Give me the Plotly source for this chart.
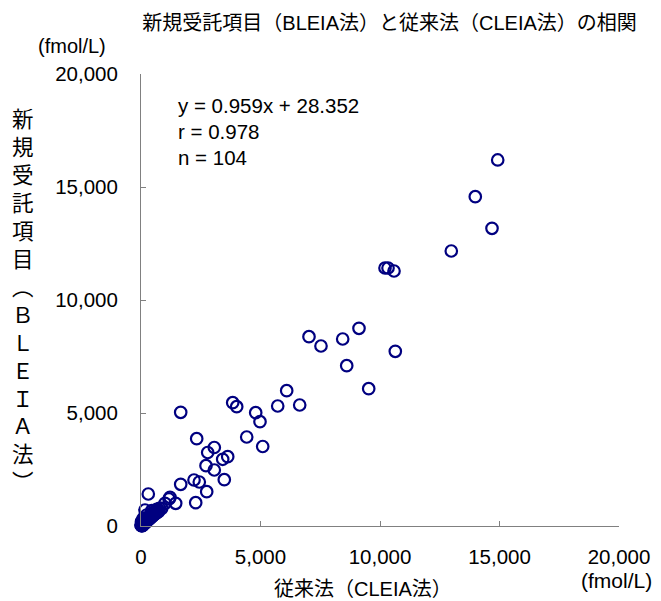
import plotly.graph_objects as go

# Values (fmol/L)
x_vals = [
    14925, 13987, 14686, 12983, 10209, 10335, 10586, 7029, 7531, 8439,
    9121, 8607, 10640, 9527, 6096, 5720, 6640, 3837, 4004, 4799,
    4979, 1661, 2330, 4423, 5092, 3067, 2791, 3628, 3418, 2720,
    3067, 3485, 2218, 2439, 1661, 2749, 2289, 305, 1452, 1172,
    1004, 866, 657, 448, 238, 167, 96, 20, 0, 448,
    96, 1213,
    15, 25, 35, 45, 55, 65, 75, 85, 95, 105,
    115, 125, 140, 150, 165, 180, 195, 210, 225, 240,
    255, 270, 285, 300, 320, 340, 360, 380, 400, 420,
    440, 460, 480, 500, 520, 545, 570, 595, 620, 650,
    680, 710, 740, 770, 30, 80, 190, 350, 110, 50,
    230, 60,
]
y_vals = [
    16196, 14572, 13173, 12169, 11417, 11417, 11284, 8377, 7965, 8275,
    8748, 7093, 7730, 6076, 5987, 5310, 5354, 5456, 5279, 5014,
    4615, 5031, 3863, 3938, 3518, 3474, 3252, 3067, 2952, 2668,
    2478, 2049, 2036, 1947, 1845, 1518, 1031, 1416, 1004, 1195,
    1004, 783, 739, 575, 487, 708, 341, 190, 44, 677,
    265, 1270,
    10, 30, 20, 50, 40, 80, 60, 100, 75, 120,
    95, 140, 120, 170, 140, 200, 170, 230, 200, 260,
    230, 300, 260, 330, 290, 370, 320, 410, 360, 450,
    400, 490, 440, 530, 480, 580, 520, 620, 560, 680,
    600, 730, 650, 780, 70, 40, 140, 450, 170, 90,
    320, 15,
]

tick_vals = [0, 5000, 10000, 15000, 20000]

title_text = "新規受託項目（BLEIA法）と従来法（CLEIA法）の相関"
x_title = "従来法（CLEIA法）"
y_title_chars = ["新", "規", "受", "託", "項", "目", "︵", "Ｂ", "Ｌ", "Ｅ", "Ｉ", "Ａ", "法", "︶"]
unit_text = "(fmol/L)"
stats_lines = ["y = 0.959x + 28.352", "r = 0.978", "n = 104"]

FONT = "Liberation Sans, Arial, Noto Sans CJK JP, sans-serif"
NAVY = "#000080"

fig = go.Figure()
fig.add_trace(go.Scatter(
    x=x_vals, y=y_vals, mode="markers",
    marker=dict(symbol="circle-open", size=11.5, color=NAVY,
                line=dict(width=2.2, color=NAVY)),
    cliponaxis=False, showlegend=False, hoverinfo="x+y",
))

axis_common = dict(
    range=[0, 20000], tickvals=tick_vals, tickformat=",",
    showgrid=False, zeroline=False, showline=True, automargin=False,
    linecolor="#808080", linewidth=1,
    ticks="inside", ticklen=5, tickcolor="#808080", tickwidth=1,
    tickfont=dict(family=FONT, size=20.5, color="black"),
)

fig.update_layout(
    width=661, height=601, autosize=False,
    margin=dict(l=141, r=42, t=74, b=75),
    paper_bgcolor="white", plot_bgcolor="white",
    font=dict(family=FONT, color="black"),
    title=dict(text=title_text, x=0.52, xref="paper", xanchor="center",
               y=1 - 23 / 601, yref="container", yanchor="middle",
               font=dict(family=FONT, size=20, color="black")),
    xaxis=dict(**axis_common, ticklabelstandoff=12),
    yaxis=dict(**axis_common, ticklabelstandoff=18),
)

annotations = []
# vertical y-axis title
annotations.append(dict(
    text="<br>".join(y_title_chars), xref="paper", yref="paper",
    x=(23 - 141) / 478, y=(526 - 298.5) / 452, xanchor="center", yanchor="middle",
    showarrow=False, font=dict(family="Noto Sans CJK JP", size=21.5, color="black"),
))
# x-axis title
annotations.append(dict(
    text=x_title, xref="paper", yref="paper",
    x=(363 - 141) / 478, y=(526 - 589) / 452, xanchor="center", yanchor="middle",
    showarrow=False, font=dict(family=FONT, size=20, color="black"),
))
# unit labels
annotations.append(dict(
    text=unit_text, xref="paper", yref="paper",
    x=(72 - 141) / 478, y=(526 - 46) / 452, xanchor="center", yanchor="middle",
    showarrow=False, font=dict(family=FONT, size=20, color="black"),
))
annotations.append(dict(
    text=unit_text, xref="paper", yref="paper",
    x=(616 - 141) / 478, y=(526 - 580) / 452, xanchor="center", yanchor="middle",
    showarrow=False, font=dict(family=FONT, size=21, color="black"),
))
# regression statistics
for i, line in enumerate(stats_lines):
    annotations.append(dict(
        text=line, xref="paper", yref="paper",
        x=(176 - 141) / 478, y=(526 - (105 + 26 * i)) / 452,
        xanchor="left", yanchor="middle",
        showarrow=False, font=dict(family=FONT, size=20.5, color="black"),
    ))

fig.update_layout(annotations=annotations)
fig.write_html(
    "out.html",
    config={"displayModeBar": False},
    post_script="document.body.style.margin='0';document.body.style.padding='0';",
)
